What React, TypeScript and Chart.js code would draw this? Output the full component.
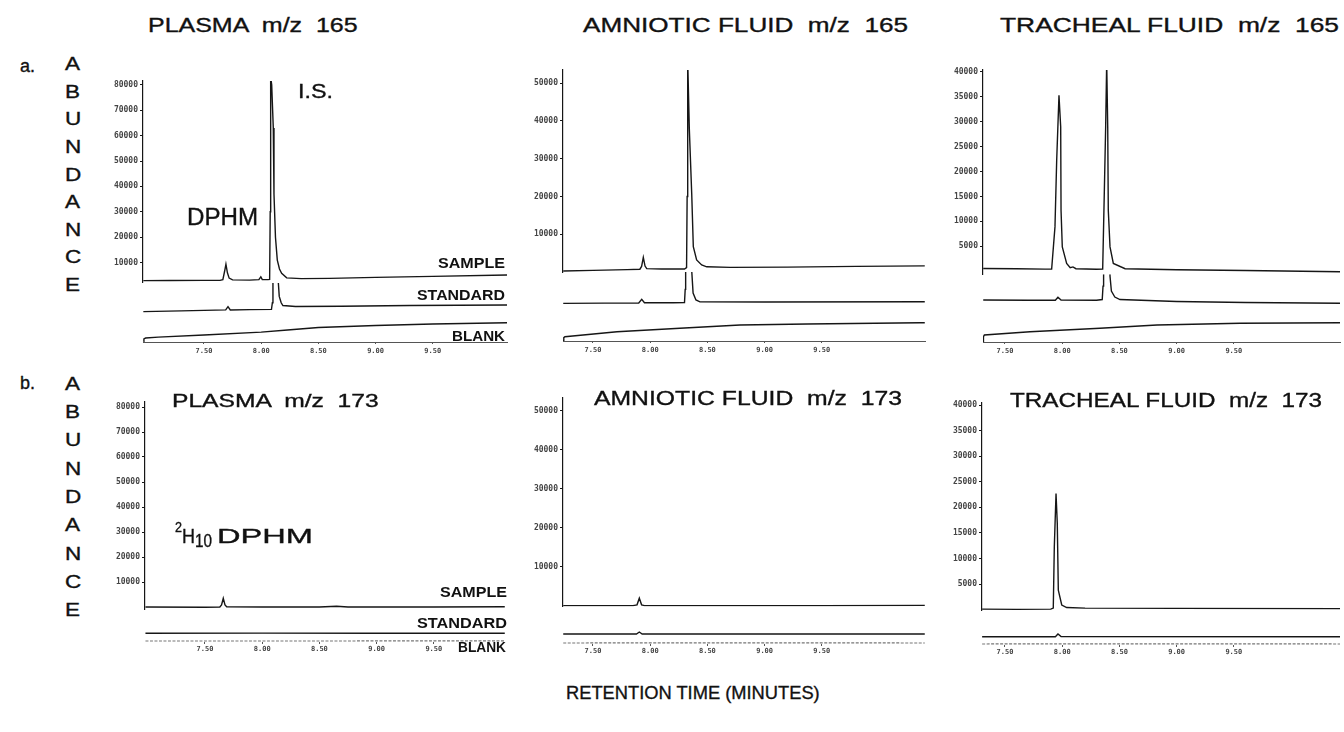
import React, { useEffect, useRef } from 'react';
import { Chart, registerables } from 'chart.js';
Chart.register(...registerables);

type Pt = [number, number];

// ---------------- DATA ----------------
const xTickValues = [7.5, 8.0, 8.5, 9.0, 9.5];
const yTicksPlasma = [10000, 20000, 30000, 40000, 50000, 60000, 70000, 80000];
const yTicksAmniotic = [10000, 20000, 30000, 40000, 50000];
const yTicksTracheal = [5000, 10000, 15000, 20000, 25000, 30000, 35000, 40000];

// m/z 165 — plasma
const plasma165Sample: Pt[] = [
  [6.97, 2900], [7.2, 2950], [7.5, 3000], [7.64, 3000], [7.665, 3300], [7.68, 6500], [7.692, 9400],
  [7.705, 6000], [7.72, 3900], [7.75, 3200], [7.9, 3100], [7.98, 3300], [7.997, 4400], [8.01, 3300],
  [8.06, 3300], [8.074, 3400], [8.079, 30000], [8.083, 83000], [8.092, 80000], [8.106, 63000],
  [8.112, 37000], [8.125, 20000], [8.141, 11000], [8.16, 7500], [8.179, 5800], [8.223, 4000],
  [8.35, 3700], [8.6, 3800], [9.0, 4200], [9.5, 4600], [10.15, 5100],
];
const plasma165Standard: Pt[] = [
  [6.97, 2500], [7.3, 2800], [7.6, 3100], [7.69, 3200], [7.71, 4450], [7.73, 3150], [7.9, 3300],
  [8.09, 3400], [8.098, 6000], [8.103, 20000], [8.12, 90000], [8.135, 60000], [8.15, 14000],
  [8.158, 8500], [8.175, 6000], [8.19, 4900], [8.3, 4500], [8.7, 4600], [9.3, 4900], [10.15, 5100],
];
const plasma165Blank: Pt[] = [
  [6.97, 300], [6.975, 1200], [6.99, 1570], [7.1, 1900], [7.5, 2750], [8.0, 3900], [8.23, 4700],
  [8.5, 5700], [9.0, 6500], [9.5, 7100], [10.15, 7600],
];

// m/z 165 — amniotic fluid
const amniotic165Sample: Pt[] = [
  [7.24, 300], [7.5, 450], [7.8, 650], [7.91, 750], [7.925, 1500], [7.94, 3900], [7.955, 1600],
  [7.97, 900], [8.1, 800], [8.3, 800], [8.318, 1200], [8.323, 20000], [8.328, 56000], [8.342, 38000],
  [8.363, 20800], [8.377, 6700], [8.406, 3200], [8.45, 1900], [8.494, 1400], [8.7, 1250],
  [9.2, 1300], [9.8, 1500], [10.4, 1650],
];
const amniotic165Standard: Pt[] = [
  [7.24, 2300], [7.6, 2350], [7.9, 2400], [7.926, 3360], [7.95, 2450], [8.2, 2450], [8.3, 2500],
  [8.306, 6000], [8.31, 12000], [8.33, 60000], [8.35, 40000], [8.363, 11000], [8.375, 5000],
  [8.4, 3200], [8.435, 2700], [9.0, 2650], [10.4, 2720],
];
const amniotic165Blank: Pt[] = [
  [7.238, 0], [7.245, 900], [7.255, 1140], [7.71, 2460], [8.26, 3360], [8.785, 4230],
  [9.371, 4500], [10.358, 4840], [10.4, 4850],
];

// m/z 165 — tracheal fluid
const tracheal165Sample: Pt[] = [
  [7.31, 540], [7.6, 480], [7.85, 420], [7.908, 450], [7.937, 8900], [7.952, 22300], [7.972, 35300],
  [7.987, 29000], [7.99, 12250], [8.001, 4880], [8.039, 1550], [8.07, 700], [8.094, 860], [8.12, 500],
  [8.3, 400], [8.354, 450], [8.368, 15660], [8.38, 29000], [8.389, 42000], [8.398, 29000],
  [8.403, 12250], [8.418, 4880], [8.447, 1550], [8.55, 500], [9.0, 300], [9.6, 150], [10.43, -100],
];
const tracheal165Standard: Pt[] = [
  [7.31, 2200], [7.7, 2150], [7.94, 2150], [7.963, 2750], [7.99, 2200], [8.3, 2150], [8.35, 2300],
  [8.357, 5000], [8.362, 9000], [8.39, 60000], [8.41, 20000], [8.418, 7000], [8.43, 4000],
  [8.46, 2800], [8.505, 2300], [9.0, 1900], [9.6, 1700], [10.43, 1550],
];
const tracheal165Blank: Pt[] = [
  [7.308, 0], [7.312, 1100], [7.32, 1400], [7.719, 2070], [8.33, 2750], [8.829, 3410],
  [9.555, 3755], [10.428, 3880],
];

// m/z 173 — plasma
const plasma173Sample: Pt[] = [
  [6.98, 0], [7.5, -100], [7.63, 0], [7.645, 800], [7.66, 3500], [7.675, 800], [7.69, 100],
  [8.0, 0], [8.5, 0], [8.65, 300], [8.75, 0], [9.5, 0], [10.12, 100],
];
const plasma173Standard: Pt[] = [[6.98, 1480], [8.0, 1560], [9.0, 1480], [10.12, 1480]];
const plasma173Blank: Pt[] = [[6.98, 400], [8.5, 400], [10.12, 450]];

// m/z 173 — amniotic fluid
const amniotic173Sample: Pt[] = [
  [7.24, 100], [7.85, 100], [7.885, 300], [7.905, 2000], [7.925, 300], [7.95, 100], [8.5, 100],
  [9.5, 100], [10.4, 150],
];
const amniotic173Standard: Pt[] = [[7.24, 1540], [7.88, 1540], [7.905, 2050], [7.93, 1540], [10.4, 1540]];
const amniotic173Blank: Pt[] = [[7.24, 260], [8.8, 280], [10.4, 260]];

// m/z 173 — tracheal fluid
const tracheal173Sample: Pt[] = [
  [7.3, 100], [7.6, 50], [7.9, 100], [7.922, 300], [7.931, 12300], [7.946, 22700], [7.957, 16900],
  [7.966, 3800], [7.996, 900], [8.039, 400], [8.2, 300], [9.0, 250], [10.43, 200],
];
const tracheal173Standard: Pt[] = [[7.3, 840], [7.94, 840], [7.963, 1370], [7.99, 860], [10.43, 840]];
const tracheal173Blank: Pt[] = [[7.3, 200], [8.8, 210], [10.43, 200]];

// ---------------- LAYOUT ----------------
interface Panel {
  left: number; right: number; top: number; axisY: number; lowerRow: boolean;
  xMin: number; xMax: number;
  sMin: number; sMax: number; stdMax: number; blankMax: number;
  yTicks: number[];
  sample: Pt[]; std: Pt[]; blank: Pt[];
}

const PANELS: Panel[] = [
  { left: 143, right: 507, top: 81, axisY: 342, lowerRow: false, xMin: 6.967, xMax: 10.149, sMin: 2000, sMax: 81500, stdMax: 13800, blankMax: 9450,
    yTicks: yTicksPlasma, sample: plasma165Sample, std: plasma165Standard, blank: plasma165Blank },
  { left: 563, right: 925, top: 70, axisY: 341, lowerRow: false, xMin: 7.238, xMax: 10.402, sMin: 0, sMax: 53500, stdMax: 10580, blankMax: 7670,
    yTicks: yTicksAmniotic, sample: amniotic165Sample, std: amniotic165Standard, blank: amniotic165Blank },
  { left: 983, right: 1340, top: 70, axisY: 342, lowerRow: false, xMin: 7.308, xMax: 10.428, sMin: -600, sMax: 40400, stdMax: 7390, blankMax: 6225,
    yTicks: yTicksTracheal, sample: tracheal165Sample, std: tracheal165Standard, blank: tracheal165Blank },
  { left: 145, right: 505, top: 402, axisY: 642, lowerRow: true, xMin: 6.976, xMax: 10.122, sMin: -800, sMax: 82000, stdMax: 11200, blankMax: 2000,
    yTicks: yTicksPlasma, sample: plasma173Sample, std: plasma173Standard, blank: plasma173Blank },
  { left: 563, right: 925, top: 398, axisY: 644, lowerRow: true, xMin: 7.238, xMax: 10.402, sMin: -200, sMax: 53300, stdMax: 8510, blankMax: 1030,
    yTicks: yTicksAmniotic, sample: amniotic173Sample, std: amniotic173Standard, blank: amniotic173Blank },
  { left: 982, right: 1340, top: 403, axisY: 645, lowerRow: true, xMin: 7.299, xMax: 10.428, sMin: -200, sMax: 40400, stdMax: 5940, blankMax: 780,
    yTicks: yTicksTracheal, sample: tracheal173Sample, std: tracheal173Standard, blank: tracheal173Blank },
];

const YW = 46;
const XH = 20;
const PADT = 7;
const PADR = 4;
const INK = '#161616';

const regionClip = {
  id: 'regionClip',
  beforeDatasetDraw(chart: any, args: any) {
    const ys = args.meta.yScale;
    const ctx = chart.ctx;
    ctx.save();
    ctx.beginPath();
    ctx.rect(chart.chartArea.left - 2, ys.top - (args.index === 0 ? 3 : 0), chart.chartArea.right - chart.chartArea.left + 4, ys.bottom - ys.top + 3);
    ctx.clip();
  },
  afterDatasetDraw(chart: any) {
    chart.ctx.restore();
  },
};

function PanelChart({ p }: { p: Panel }) {
  const ref = useRef<HTMLCanvasElement>(null);
  const w = YW + (p.right - p.left) + PADR;
  const h = PADT + (p.axisY - p.top) + XH;
  useEffect(() => {
    const fixW = (s: any) => { s.width = YW; s.paddingTop = 0; s.paddingBottom = 0; s.paddingLeft = 0; s.paddingRight = 0; };
    const fixH = (s: any) => { s.height = XH; s.paddingTop = 0; s.paddingBottom = 0; s.paddingLeft = 0; s.paddingRight = 0; };
    const line = (d: Pt[], id: string, extra: any = {}) => ({
      data: d.map(([x, y]) => ({ x, y })), yAxisID: id, borderColor: INK, borderWidth: 1.4,
      pointRadius: 0, tension: 0, fill: false, ...extra,
    });
    const hidden = (max: number) => ({
      type: 'linear', position: 'left', stack: 'v', stackWeight: max, min: 0, max,
      afterFit: fixW, ticks: { display: false }, grid: { display: false }, border: { display: false },
    });
    const tickFont = { family: '"DejaVu Sans Mono", monospace', size: 8, weight: 'bold' as const };
    const blankStyle = p.lowerRow ? { borderColor: '#777', borderWidth: 1.2, borderDash: [3, 1.5] } : {};
    const chart = new Chart(ref.current as HTMLCanvasElement, {
      type: 'line',
      data: { datasets: [line(p.sample, 'ySample'), line(p.std, 'yStd'), line(p.blank, 'yBlank', blankStyle)] as any },
      options: {
        animation: false, responsive: false, events: [],
        layout: { padding: { top: PADT, right: PADR, left: 0, bottom: 0 } },
        plugins: { legend: { display: false }, tooltip: { enabled: false }, title: { display: false } },
        scales: {
          x: {
            type: 'linear', min: p.xMin, max: p.xMax, position: 'bottom', afterFit: fixH,
            afterBuildTicks: (s: any) => { s.ticks = xTickValues.map((v) => ({ value: v })); },
            ticks: { callback: (v: any) => Number(v).toFixed(2), font: { ...tickFont, size: 7 }, color: '#444', padding: p.lowerRow ? 1 : 3, maxRotation: 0, autoSkip: false },
            grid: { display: true, drawOnChartArea: false, drawTicks: true, tickLength: 2, color: '#555' },
            border: { display: !p.lowerRow, color: '#555', width: 1, dash: [3, 2] },
          },
          yBlank: hidden(p.blankMax),
          yStd: hidden(p.stdMax),
          ySample: {
            type: 'linear', position: 'left', stack: 'v', stackWeight: p.sMax - p.sMin, min: p.sMin, max: p.sMax,
            afterFit: fixW,
            afterBuildTicks: (s: any) => { s.ticks = p.yTicks.map((v) => ({ value: v })); },
            ticks: { callback: (v: any) => String(v), font: tickFont, color: '#444', padding: 2, autoSkip: false },
            grid: { display: true, drawOnChartArea: false, drawTicks: true, tickLength: 3, color: INK },
            border: { display: true, color: INK, width: 1.2 },
          },
        } as any,
      },
      plugins: [regionClip],
    });
    return () => chart.destroy();
  }, []);
  return (
    <canvas ref={ref} width={w} height={h}
      style={{ position: 'absolute', left: p.left - YW, top: p.top - PADT, width: w, height: h }} />
  );
}

let mctx: CanvasRenderingContext2D | null = null;
function measure(text: string, font: string): number {
  if (!mctx) mctx = document.createElement('canvas').getContext('2d');
  (mctx as CanvasRenderingContext2D).font = font;
  return (mctx as CanvasRenderingContext2D).measureText(text).width;
}

const FAMILY = '"Liberation Sans", Arial, Helvetica, sans-serif';

function Txt({ text, x, base, size, bold, w, sx, align }: {
  text: string; x: number; base: number; size: number; bold?: boolean; w?: number; sx?: number; align?: 'left' | 'right' | 'center';
}) {
  const font = `${bold ? 'bold ' : ''}${size}px ${FAMILY}`;
  const m = measure(text, font);
  const s = w ? w / m : (sx ?? 1);
  const real = m * s;
  const left = align === 'right' ? x - real : align === 'center' ? x - real / 2 : x;
  return (
    <div style={{
      position: 'absolute', left, top: base - 0.8465 * size, fontFamily: FAMILY, fontSize: size,
      fontWeight: bold ? 'bold' : 'normal', lineHeight: `${size}px`, whiteSpace: 'pre', color: '#111',
      transform: `scaleX(${s})`, transformOrigin: 'left top',
      WebkitTextStroke: bold ? '0px' : '0.35px #111',
    } as any}>{text}</div>
  );
}

const ABUND = 'ABUNDANCE'.split('');

export default function App() {
  return (
    <div style={{ position: 'absolute', left: 0, top: 0, width: 1344, height: 732, background: '#fff', overflow: 'hidden' }}>
      {PANELS.map((p, i) => <PanelChart key={i} p={p} />)}

      <Txt text="PLASMA  m/z  165" x={148} w={211} base={32} size={20} />
      <Txt text="AMNIOTIC FLUID  m/z  165" x={583} w={325} base={32} size={20} />
      <Txt text="TRACHEAL FLUID  m/z  165" x={1000} w={340} base={32} size={20} />
      <Txt text="PLASMA  m/z  173" x={172} w={208} base={407} size={18} />
      <Txt text="AMNIOTIC FLUID  m/z  173" x={594} w={308} base={405} size={21} />
      <Txt text="TRACHEAL FLUID  m/z  173" x={1010} w={313} base={406.5} size={21} />

      <Txt text="a." x={20} base={72} size={18} />
      <Txt text="b." x={20} base={389} size={18} />
      {ABUND.map((c, i) => <Txt key={'t' + i} text={c} x={73} base={70.5 + 27.6 * i} size={18} sx={1.25} align="center" />)}
      {ABUND.map((c, i) => <Txt key={'b' + i} text={c} x={73} base={390 + 28.3 * i} size={18} sx={1.25} align="center" />)}

      <Txt text="I.S." x={298} w={35} base={98} size={20} />
      <Txt text="DPHM" x={187} w={71} base={225} size={23} />

      <Txt text="SAMPLE" x={505} w={67} base={268} size={15} bold align="right" />
      <Txt text="STANDARD" x={505} w={88} base={300} size={15} bold align="right" />
      <Txt text="BLANK" x={505} w={53} base={341} size={15} bold align="right" />
      <Txt text="SAMPLE" x={507} w={67} base={597} size={15} bold align="right" />
      <Txt text="STANDARD" x={507} w={90} base={628} size={15} bold align="right" />
      <Txt text="BLANK" x={506} w={48} base={652} size={15} bold align="right" />

      <Txt text="2" x={175} w={7} base={532} size={14} />
      <Txt text="H" x={182} w={13} base={543} size={21} />
      <Txt text="10" x={195} w={17} base={547} size={18} />
      <Txt text="DPHM" x={217} w={96} base={543} size={21} />

      <Txt text="RETENTION TIME (MINUTES)" x={566} w={254} base={699} size={19} />
    </div>
  );
}
